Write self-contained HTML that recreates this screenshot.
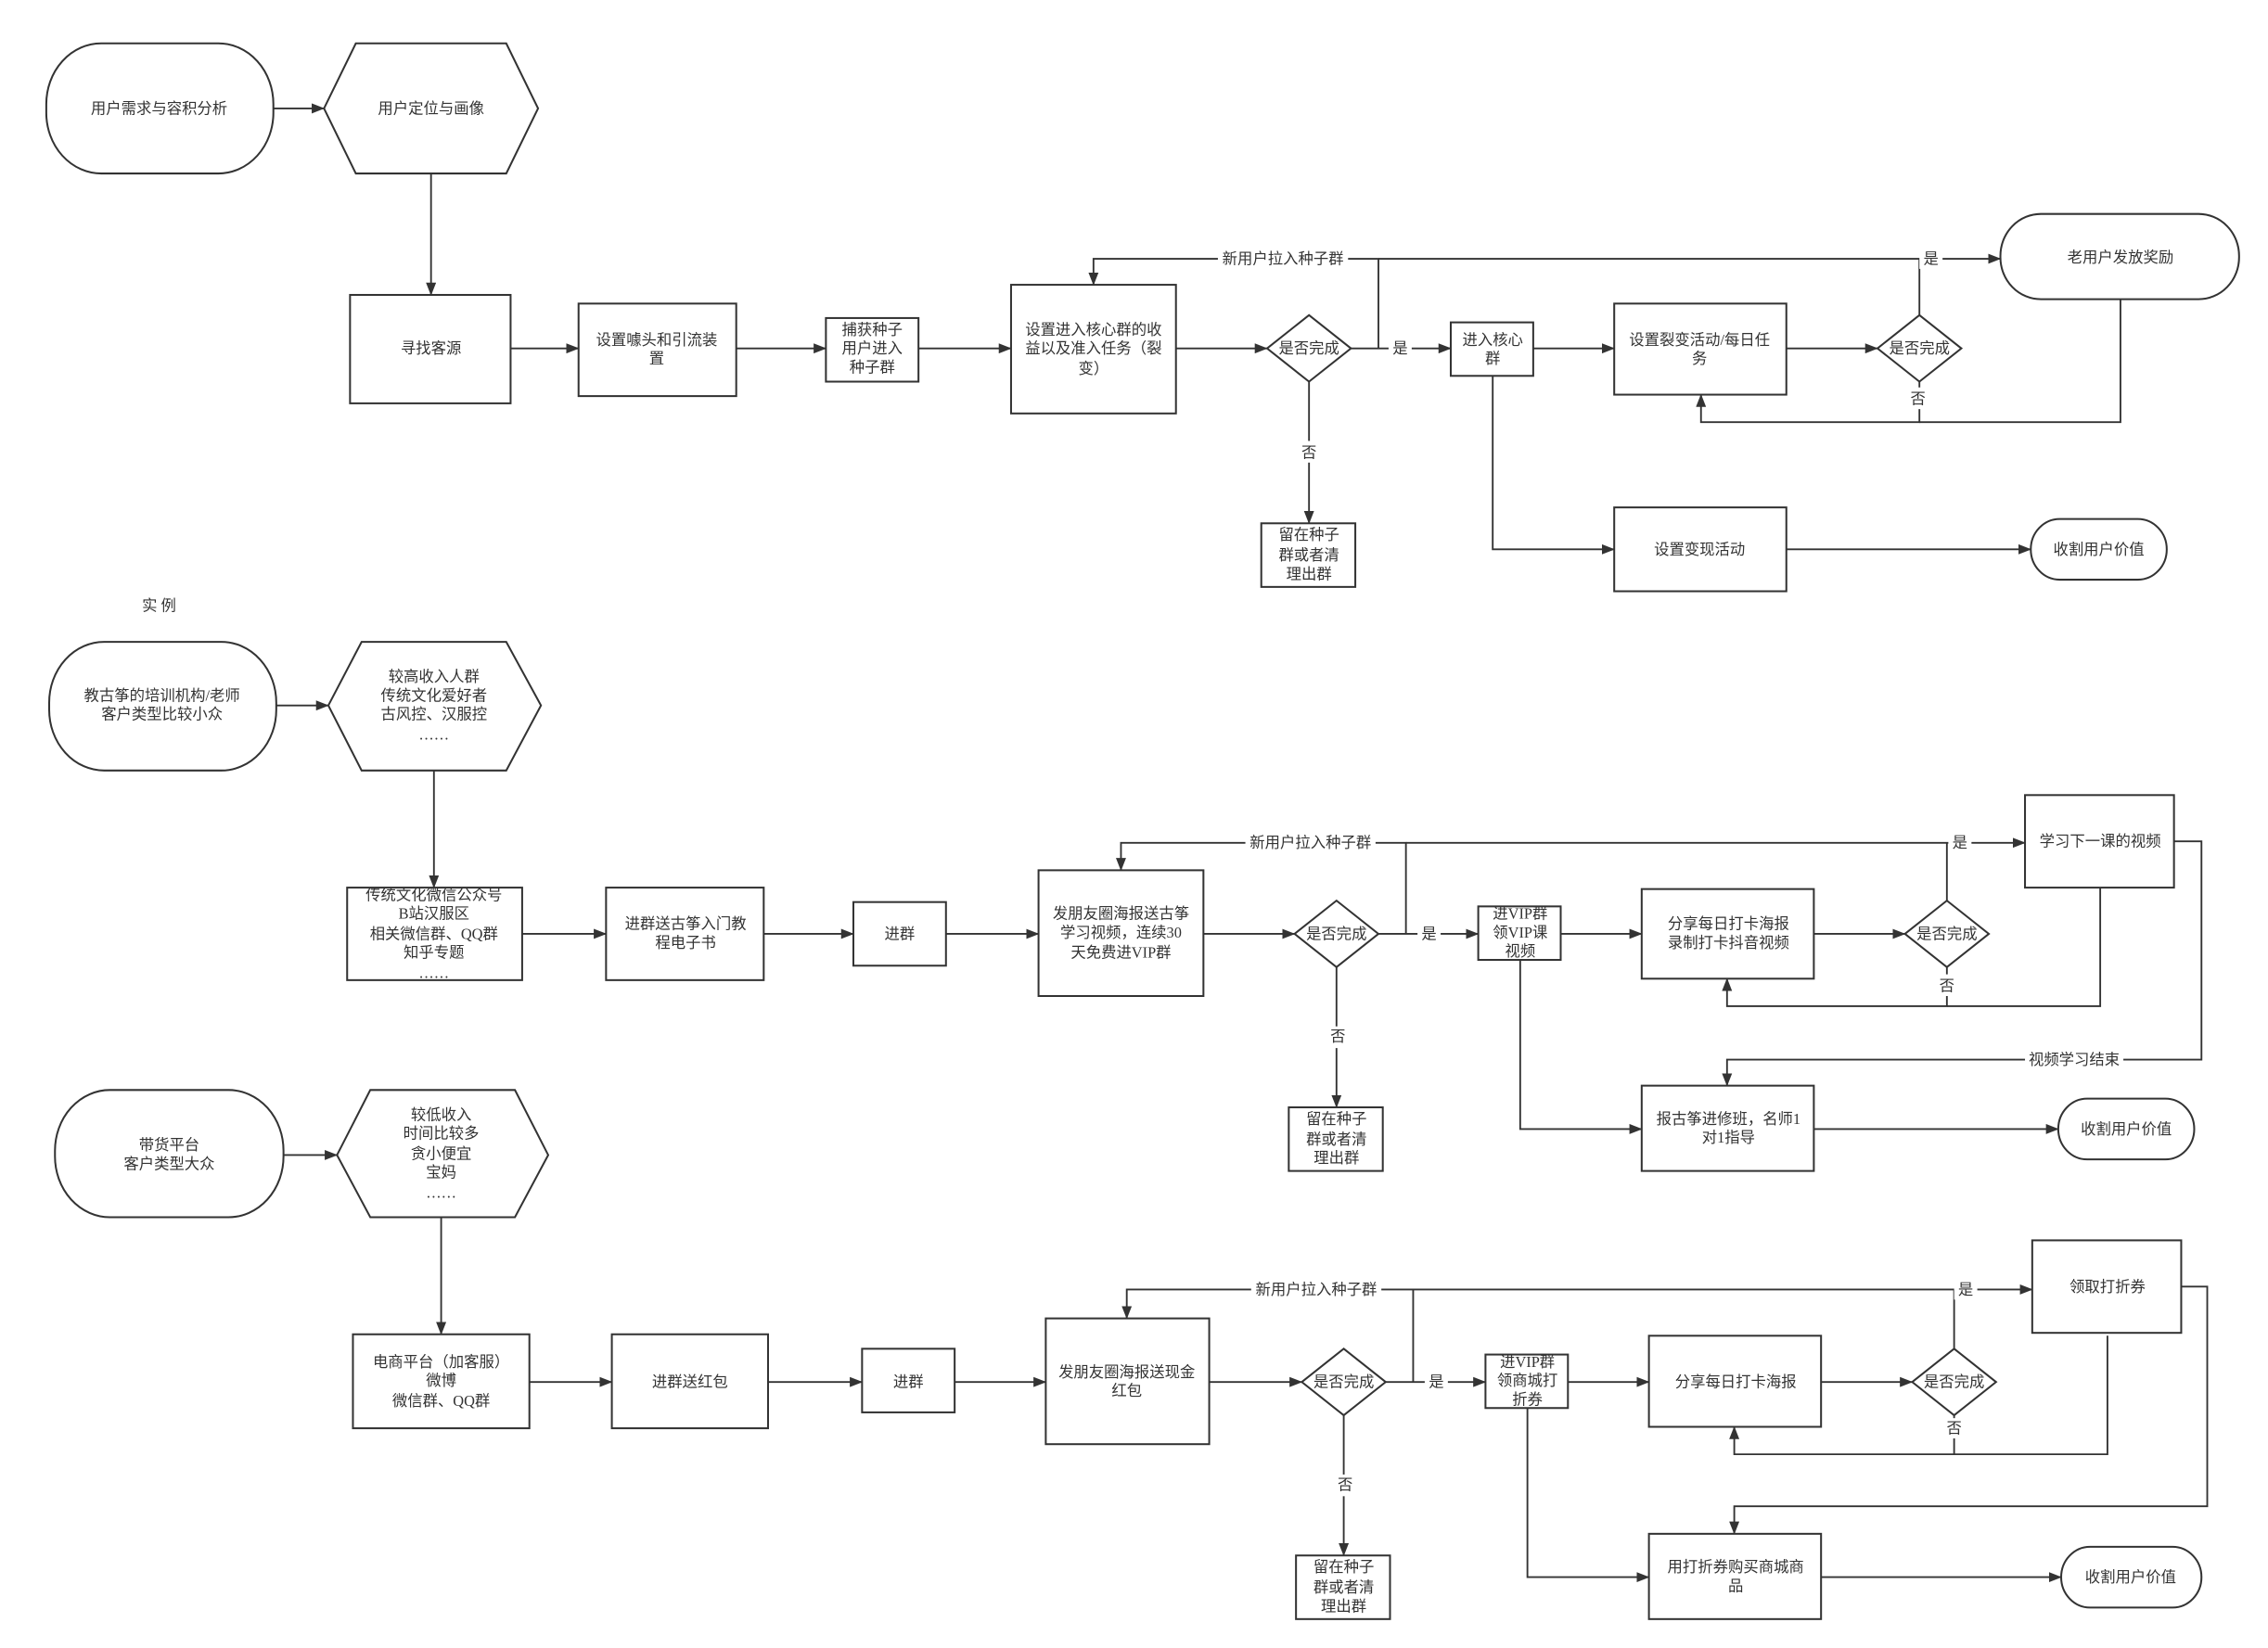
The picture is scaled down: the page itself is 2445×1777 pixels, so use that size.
<!DOCTYPE html>
<html><head><meta charset="utf-8"><style>
html,body{margin:0;padding:0;background:#fff;}
svg{display:block;}
text{font-family:"Liberation Serif","Noto Sans CJK SC",sans-serif;font-size:10.5px;fill:#333;text-anchor:middle;dominant-baseline:central;}
.s{fill:#fff;stroke:#333;stroke-width:1.3;}
.l{fill:none;stroke:#333;stroke-width:1.2;}
.la{fill:none;stroke:#333;stroke-width:1.2;marker-end:url(#a);}
</style></head><body>
<svg width="2445" height="1777" viewBox="0 0 1568 1140" preserveAspectRatio="none" xmlns="http://www.w3.org/2000/svg">
<defs><marker id="a" markerWidth="9" markerHeight="7" refX="8.5" refY="3.5" orient="auto" markerUnits="userSpaceOnUse"><path d="M0,0 L9,3.5 L0,7 z" fill="#333"/></marker></defs>

<!-- Section 1 -->
<rect class="s" x="32" y="30" width="157" height="90" rx="38" ry="42"/>
<text x="110" y="75">用户需求与容积分析</text>
<polygon class="s" points="224,75 246,30 350,30 372,75 350,120 246,120"/>
<text x="298" y="75">用户定位与画像</text>
<line class="la" x1="189" y1="75" x2="224" y2="75"/>
<line class="la" x1="298" y1="120" x2="298" y2="204"/>
<rect class="s" x="242" y="204" width="111" height="75"/>
<text x="298" y="241">寻找客源</text>
<line class="la" x1="353" y1="241" x2="400" y2="241"/>
<rect class="s" x="400" y="210" width="109" height="64"/>
<text x="454" y="235">设置噱头和引流装</text><text x="454" y="248">置</text>
<line class="la" x1="509" y1="241" x2="571" y2="241"/>
<rect class="s" x="571" y="220" width="64" height="44"/>
<text x="603" y="228">捕获种子</text><text x="603" y="241">用户进入</text><text x="603" y="254">种子群</text>
<line class="la" x1="635" y1="241" x2="699" y2="241"/>
<rect class="s" x="699" y="197" width="114" height="89"/>
<text x="756" y="228">设置进入核心群的收</text><text x="756" y="241">益以及准入任务（裂</text><text x="756" y="255">变）</text>
<line class="la" x1="813" y1="241" x2="876" y2="241"/>
<polygon class="s" points="876,241 905,218 934,241 905,264"/>
<text x="905" y="241">是否完成</text>
<polyline class="la" points="953,241 953,179 756,179 756,197"/>
<line class="la" x1="953" y1="179" x2="1383" y2="179"/>
<line class="la" x1="934" y1="241" x2="1003" y2="241"/>
<rect x="960" y="234" width="16" height="14" fill="#fff"/><text x="968" y="241">是</text>
<rect x="842" y="172" width="90" height="14" fill="#fff"/><text x="887" y="179">新用户拉入种子群</text>
<line class="l" x1="1327" y1="218" x2="1327" y2="179"/>
<rect x="1327" y="172" width="16" height="14" fill="#fff"/><text x="1335" y="179">是</text>
<line class="la" x1="905" y1="264" x2="905" y2="362"/>
<rect x="897" y="305" width="16" height="15" fill="#fff"/><text x="905" y="313">否</text>
<rect class="s" x="872" y="362" width="65" height="44"/>
<text x="905" y="370">留在种子</text><text x="905" y="384">群或者清</text><text x="905" y="397">理出群</text>
<rect class="s" x="1003" y="223" width="57" height="37"/>
<text x="1032" y="235">进入核心</text><text x="1032" y="248">群</text>
<line class="la" x1="1060" y1="241" x2="1116" y2="241"/>
<rect class="s" x="1116" y="210" width="119" height="63"/>
<text x="1175" y="235">设置裂变活动/每日任</text><text x="1175" y="248">务</text>
<line class="la" x1="1235" y1="241" x2="1298" y2="241"/>
<polygon class="s" points="1298,241 1327,218 1356,241 1327,264"/>
<text x="1327" y="241">是否完成</text>
<polyline class="la" points="1327,283 1327,292 1176,292 1176,273"/>
<line class="l" x1="1327" y1="264" x2="1327" y2="268"/>
<text x="1326" y="276">否</text>
<polyline class="l" points="1466,207 1466,292 1327,292"/>
<rect class="s" x="1383" y="148" width="165" height="59" rx="28" ry="29"/>
<text x="1466" y="178">老用户发放奖励</text>
<polyline class="la" points="1032,260 1032,380 1116,380"/>
<rect class="s" x="1116" y="351" width="119" height="58"/>
<text x="1175" y="380">设置变现活动</text>
<line class="la" x1="1235" y1="380" x2="1404" y2="380"/>
<rect class="s" x="1404" y="359" width="94" height="42" rx="20" ry="21"/>
<text x="1451" y="380">收割用户价值</text>

<text x="110" y="419">实  例</text>

<!-- Section 2 -->
<rect class="s" x="34" y="444" width="157" height="89" rx="38" ry="42"/>
<text x="112" y="481">教古筝的培训机构/老师</text><text x="112" y="494">客户类型比较小众</text>
<line class="la" x1="191" y1="488" x2="227" y2="488"/>
<polygon class="s" points="227,488 250,444 350,444 374,488 350,533 250,533"/>
<text x="300" y="468">较高收入人群</text><text x="300" y="481">传统文化爱好者</text><text x="300" y="494">古风控、汉服控</text><text x="300" y="508">……</text>
<line class="la" x1="300" y1="533" x2="300" y2="614"/>
<rect class="s" x="240" y="614" width="121" height="64"/>
<text x="300" y="619">传统文化微信公众号</text><text x="300" y="632">B站汉服区</text><text x="300" y="646">相关微信群、QQ群</text><text x="300" y="659">知乎专题</text><text x="300" y="673">……</text>
<line class="la" x1="361" y1="646" x2="419" y2="646"/>
<rect class="s" x="419" y="614" width="109" height="64"/>
<text x="474" y="639">进群送古筝入门教</text><text x="474" y="652">程电子书</text>
<line class="la" x1="528" y1="646" x2="590" y2="646"/>
<rect class="s" x="590" y="624" width="64" height="44"/>
<text x="622" y="646">进群</text>
<line class="la" x1="654" y1="646" x2="718" y2="646"/>
<rect class="s" x="718" y="602" width="114" height="87"/>
<text x="775" y="632">发朋友圈海报送古筝</text><text x="775" y="645">学习视频，连续30</text><text x="775" y="659">天免费进VIP群</text>
<line class="la" x1="832" y1="646" x2="895" y2="646"/>
<polygon class="s" points="895,646 924,623 953,646 924,669"/>
<text x="924" y="646">是否完成</text>
<polyline class="la" points="972,646 972,583 775,583 775,602"/>
<line class="la" x1="972" y1="583" x2="1400" y2="583"/>
<line class="la" x1="953" y1="646" x2="1022" y2="646"/>
<rect x="980" y="639" width="16" height="14" fill="#fff"/><text x="988" y="646">是</text>
<rect x="861" y="576" width="90" height="14" fill="#fff"/><text x="906" y="583">新用户拉入种子群</text>
<line class="l" x1="1346" y1="623" x2="1346" y2="583"/>
<rect x="1347" y="576" width="16" height="14" fill="#fff"/><text x="1355" y="583">是</text>
<line class="la" x1="924" y1="669" x2="924" y2="766"/>
<rect x="916" y="710" width="16" height="15" fill="#fff"/><text x="925" y="717">否</text>
<rect class="s" x="891" y="766" width="65" height="44"/>
<text x="924" y="774">留在种子</text><text x="924" y="788">群或者清</text><text x="924" y="801">理出群</text>
<rect class="s" x="1022" y="627" width="57" height="37"/>
<text x="1051" y="632">进VIP群</text><text x="1051" y="645">领VIP课</text><text x="1051" y="658">视频</text>
<line class="la" x1="1079" y1="646" x2="1135" y2="646"/>
<rect class="s" x="1135" y="615" width="119" height="62"/>
<text x="1195" y="639">分享每日打卡海报</text><text x="1195" y="652">录制打卡抖音视频</text>
<line class="la" x1="1254" y1="646" x2="1317" y2="646"/>
<polygon class="s" points="1317,646 1346,623 1375,646 1346,669"/>
<text x="1346" y="646">是否完成</text>
<line class="l" x1="1346" y1="669" x2="1346" y2="674"/>
<text x="1346" y="682">否</text>
<polyline class="la" points="1346,689 1346,696 1194,696 1194,677"/>
<polyline class="l" points="1452,614 1452,696 1346,696"/>
<rect class="s" x="1400" y="550" width="103" height="64"/>
<text x="1452" y="582">学习下一课的视频</text>
<polyline class="la" points="1503,582 1522,582 1522,733 1194,733 1194,751"/>
<rect x="1400" y="726" width="68" height="14" fill="#fff"/><text x="1434" y="733">视频学习结束</text>
<polyline class="la" points="1051,664 1051,781 1135,781"/>
<rect class="s" x="1135" y="751" width="119" height="59"/>
<text x="1195" y="774">报古筝进修班，名师1</text><text x="1195" y="787">对1指导</text>
<line class="la" x1="1254" y1="781" x2="1423" y2="781"/>
<rect class="s" x="1423" y="760" width="94" height="42" rx="20" ry="21"/>
<text x="1470" y="781">收割用户价值</text>

<!-- Section 3 -->
<rect class="s" x="38" y="754" width="158" height="88" rx="38" ry="42"/>
<text x="117" y="792">带货平台</text><text x="117" y="805">客户类型大众</text>
<line class="la" x1="196" y1="799" x2="233" y2="799"/>
<polygon class="s" points="233,799 256,754 356,754 379,799 356,842 256,842"/>
<text x="305" y="771">较低收入</text><text x="305" y="784">时间比较多</text><text x="305" y="798">贪小便宜</text><text x="305" y="811">宝妈</text><text x="305" y="825">……</text>
<line class="la" x1="305" y1="842" x2="305" y2="923"/>
<rect class="s" x="244" y="923" width="122" height="65"/>
<text x="305" y="942">电商平台（加客服）</text><text x="305" y="955">微博</text><text x="305" y="969">微信群、QQ群</text>
<line class="la" x1="366" y1="956" x2="423" y2="956"/>
<rect class="s" x="423" y="923" width="108" height="65"/>
<text x="477" y="956">进群送红包</text>
<line class="la" x1="531" y1="956" x2="596" y2="956"/>
<rect class="s" x="596" y="933" width="64" height="44"/>
<text x="628" y="956">进群</text>
<line class="la" x1="660" y1="956" x2="723" y2="956"/>
<rect class="s" x="723" y="912" width="113" height="87"/>
<text x="779" y="949">发朋友圈海报送现金</text><text x="779" y="962">红包</text>
<line class="la" x1="836" y1="956" x2="900" y2="956"/>
<polygon class="s" points="900,956 929,933 958,956 929,979"/>
<text x="929" y="956">是否完成</text>
<polyline class="la" points="977,956 977,892 779,892 779,912"/>
<line class="la" x1="977" y1="892" x2="1405" y2="892"/>
<line class="la" x1="958" y1="956" x2="1027" y2="956"/>
<rect x="985" y="949" width="16" height="14" fill="#fff"/><text x="993" y="956">是</text>
<rect x="865" y="885" width="90" height="14" fill="#fff"/><text x="910" y="892">新用户拉入种子群</text>
<line class="l" x1="1351" y1="933" x2="1351" y2="892"/>
<rect x="1351" y="885" width="16" height="14" fill="#fff"/><text x="1359" y="892">是</text>
<line class="la" x1="929" y1="979" x2="929" y2="1076"/>
<rect x="921" y="1020" width="16" height="15" fill="#fff"/><text x="930" y="1027">否</text>
<rect class="s" x="896" y="1076" width="65" height="44"/>
<text x="929" y="1084">留在种子</text><text x="929" y="1098">群或者清</text><text x="929" y="1111">理出群</text>
<rect class="s" x="1027" y="937" width="57" height="37"/>
<text x="1056" y="942">进VIP群</text><text x="1056" y="955">领商城打</text><text x="1056" y="968">折券</text>
<line class="la" x1="1084" y1="956" x2="1140" y2="956"/>
<rect class="s" x="1140" y="924" width="119" height="63"/>
<text x="1200" y="956">分享每日打卡海报</text>
<line class="la" x1="1259" y1="956" x2="1322" y2="956"/>
<polygon class="s" points="1322,956 1351,933 1380,956 1351,979"/>
<text x="1351" y="956">是否完成</text>
<line class="l" x1="1351" y1="979" x2="1351" y2="981"/>
<text x="1351" y="988">否</text>
<polyline class="la" points="1351,995 1351,1006 1199,1006 1199,987"/>
<polyline class="l" points="1457,924 1457,1006 1351,1006"/>
<rect class="s" x="1405" y="858" width="103" height="64"/>
<text x="1457" y="890">领取打折券</text>
<polyline class="la" points="1508,890 1526,890 1526,1042 1199,1042 1199,1061"/>
<polyline class="la" points="1056,974 1056,1091 1140,1091"/>
<rect class="s" x="1140" y="1061" width="119" height="59"/>
<text x="1200" y="1084">用打折券购买商城商</text><text x="1200" y="1097">品</text>
<line class="la" x1="1259" y1="1091" x2="1425" y2="1091"/>
<rect class="s" x="1425" y="1070" width="97" height="42" rx="20" ry="21"/>
<text x="1473" y="1091">收割用户价值</text>
</svg>
</body></html>
